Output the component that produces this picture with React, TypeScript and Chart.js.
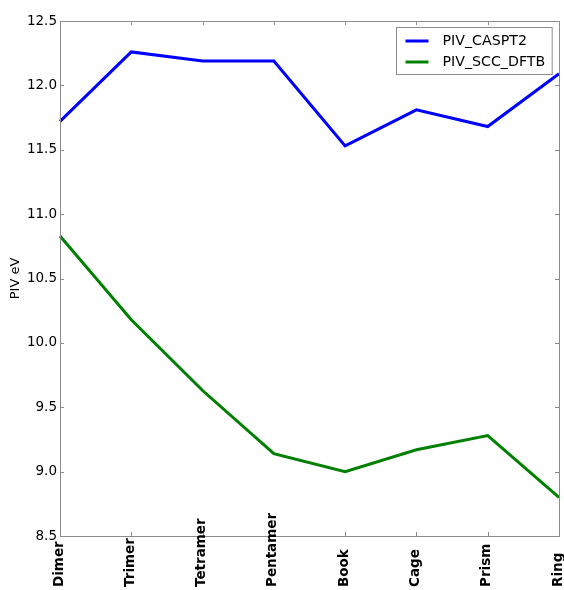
import React, { useEffect, useRef } from "react";
import { Chart, registerables } from "chart.js";

Chart.register(...registerables);

const categories = ["Dimer", "Trimer", "Tetramer", "Pentamer", "Book", "Cage", "Prism", "Ring"];
const casptValues = [11.72, 12.26, 12.19, 12.19, 11.53, 11.81, 11.68, 12.09];
const dftbValues = [10.83, 10.18, 9.63, 9.14, 9.0, 9.17, 9.28, 8.8];
const yMin = 8.5;
const yMax = 12.5;
const yStep = 0.5;

const FONT = "'DejaVu Sans', sans-serif";
const FRAME = "#8c8c8c";

const framePlugin = {
  id: "frame",
  afterDatasetsDraw(chart: any) {
    const { ctx, chartArea } = chart;
    const { left, right, top, bottom } = chartArea;
    ctx.save();
    ctx.strokeStyle = FRAME;
    ctx.lineWidth = 1;
    ctx.strokeRect(Math.round(left) + 0.5, Math.round(top) + 0.5, Math.round(right - left), Math.round(bottom - top));
    const ys = chart.scales.y;
    const xs = chart.scales.x;
    const L = 4;
    ctx.beginPath();
    ys.ticks.forEach((t: any, i: number) => {
      const py = Math.round(ys.getPixelForTick(i)) + 0.5;
      ctx.moveTo(left, py);
      ctx.lineTo(left + L, py);
      ctx.moveTo(right, py);
      ctx.lineTo(right - L, py);
    });
    xs.ticks.forEach((t: any, i: number) => {
      const px = Math.round(xs.getPixelForTick(i)) + 0.5;
      ctx.moveTo(px, bottom);
      ctx.lineTo(px, bottom - L);
      ctx.moveTo(px, top);
      ctx.lineTo(px, top + L);
    });
    ctx.stroke();
    ctx.restore();
  },
  afterDraw(chart: any) {
    const { ctx, chartArea } = chart;
    const datasets = chart.data.datasets;
    // x tick labels, rotated, anchored at the bottom of the canvas
    const xs = chart.scales.x;
    ctx.save();
    ctx.font = `bold 13.5px ${FONT}`;
    ctx.fillStyle = "#000";
    ctx.textAlign = "left";
    ctx.textBaseline = "middle";
    (chart.data.labels as string[]).forEach((lab: string, i: number) => {
      const px = xs.getPixelForTick(i) - 1;
      ctx.save();
      ctx.translate(px, chart.height - 3);
      ctx.rotate(-Math.PI / 2);
      ctx.fillText(lab, 0, 0);
      ctx.restore();
    });
    ctx.restore();

    // legend
    ctx.save();
    ctx.font = `14.2px ${FONT}`;
    let maxW = 0;
    datasets.forEach((d: any) => {
      maxW = Math.max(maxW, ctx.measureText(d.label).width);
    });
    const padL = 9;
    const lineLen = 23;
    const gap = 14;
    const padR = 7;
    const rowH = 21;
    const boxW = padL + lineLen + gap + maxW + padR;
    const boxH = 47;
    const bx = Math.round(chartArea.right - 7 - boxW) + 0.5;
    const by = Math.round(chartArea.top + 6) + 0.5;
    ctx.fillStyle = "#ffffff";
    ctx.fillRect(bx, by, boxW, boxH);
    ctx.strokeStyle = FRAME;
    ctx.lineWidth = 1;
    ctx.strokeRect(bx, by, boxW, boxH);
    datasets.forEach((d: any, i: number) => {
      const cy = by + 13.5 + i * rowH;
      ctx.strokeStyle = d.borderColor;
      ctx.lineWidth = 3;
      ctx.beginPath();
      ctx.moveTo(bx + padL, cy);
      ctx.lineTo(bx + padL + lineLen, cy);
      ctx.stroke();
      ctx.fillStyle = "#000";
      ctx.textBaseline = "middle";
      ctx.textAlign = "left";
      ctx.fillText(d.label, bx + padL + lineLen + gap, cy);
    });
    ctx.restore();
  },
};

export default function App() {
  const ref = useRef<HTMLCanvasElement>(null);
  useEffect(() => {
    if (!ref.current) return;
    const chart = new Chart(ref.current, {
      type: "line",
      data: {
        labels: categories,
        datasets: [
          {
            label: "PIV_CASPT2",
            data: casptValues,
            borderColor: "#0000ff",
            backgroundColor: "#0000ff",
            borderWidth: 3,
            pointRadius: 0,
            tension: 0,
            fill: false,
          },
          {
            label: "PIV_SCC_DFTB",
            data: dftbValues,
            borderColor: "#008000",
            backgroundColor: "#008000",
            borderWidth: 3,
            pointRadius: 0,
            tension: 0,
            fill: false,
          },
        ],
      },
      options: {
        responsive: false,
        animation: false,
        devicePixelRatio: 1,
        layout: { padding: { left: 0, right: 5, top: 21, bottom: 0 } },
        plugins: {
          legend: { display: false },
          tooltip: { enabled: false },
        },
        scales: {
          x: {
            type: "category",
            offset: false,
            grid: { display: false, drawTicks: false },
            border: { display: false },
            ticks: { display: false, autoSkip: false },
            afterFit(scale: any) {
              scale.height = 54;
              scale.paddingLeft = 0;
              scale.paddingRight = 0;
            },
          },
          y: {
            min: yMin,
            max: yMax,
            grid: { display: false, drawTicks: false },
            border: { display: false },
            title: {
              display: true,
              text: "PIV eV",
              color: "#000",
              font: { family: FONT, size: 13 },
              padding: { top: 8, bottom: 0 },
            },
            ticks: {
              stepSize: yStep,
              color: "#000",
              font: { family: FONT, size: 13.5 },
              padding: 3,
              callback: (v: any) => Number(v).toFixed(1),
            },
            afterFit(scale: any) {
              scale.width = 60;
              scale.paddingTop = 0;
              scale.paddingBottom = 0;
            },
          },
        },
      },
      plugins: [framePlugin],
    });
    return () => chart.destroy();
  }, []);
  return (
    <div style={{ position: "absolute", left: 0, top: 0, width: 564, height: 590, background: "#fff" }}>
      <canvas ref={ref} width={564} height={590} />
    </div>
  );
}
